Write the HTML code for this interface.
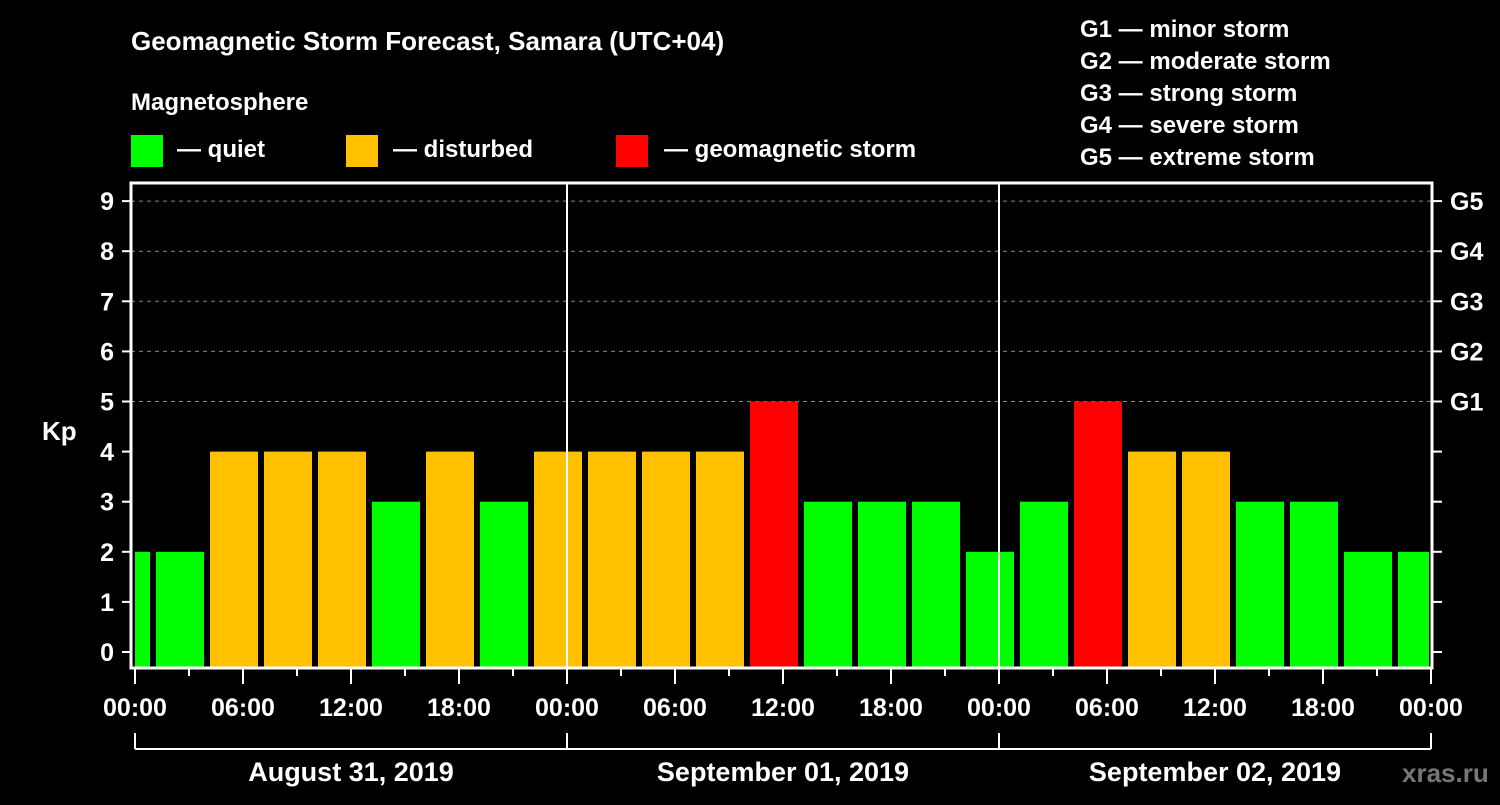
<!DOCTYPE html>
<html><head><meta charset="utf-8"><style>
body{margin:0;background:#000;width:1500px;height:800px;overflow:hidden}
svg text{font-family:"Liberation Sans",Arial,sans-serif;font-weight:bold;fill:#fff}
</style></head><body>
<svg id="c" width="1500" height="800" xmlns="http://www.w3.org/2000/svg">
<text x="131" y="50" font-size="26">Geomagnetic Storm Forecast, Samara (UTC+04)</text>
<text x="131" y="110" font-size="24">Magnetosphere</text>
<rect x="131" y="135" width="32" height="32" fill="#00ff00"/>
<text x="177" y="157" font-size="24">— quiet</text>
<rect x="346" y="135" width="32" height="32" fill="#ffc000"/>
<text x="393" y="157" font-size="24">— disturbed</text>
<rect x="616" y="135" width="32" height="32" fill="#ff0000"/>
<text x="664" y="157" font-size="24">— geomagnetic storm</text>
<g font-size="24">
<text x="1080" y="37">G1 — minor storm</text>
<text x="1080" y="69">G2 — moderate storm</text>
<text x="1080" y="101">G3 — strong storm</text>
<text x="1080" y="133">G4 — severe storm</text>
<text x="1080" y="165">G5 — extreme storm</text>
</g>
<text x="42" y="440" font-size="26">Kp</text>
<text x="1402" y="782" font-size="26" fill="#777" style="fill:#777">xras.ru</text>
<g id="plot"></g>
</svg>
<script>
const starts=[-2,1,4,7,10,13,16,19,22,25,28,31,34,37,40,43,46,49,52,55,58,61,64,67,70];
const kp=[2,2,4,4,4,3,4,3,4,4,4,4,5,3,3,3,2,3,5,4,4,3,3,2,2];
const yTicks=[0,1,2,3,4,5,6,7,8,9];
const gLabels=['G1','G2','G3','G4','G5'];
const xLabels=['00:00','06:00','12:00','18:00','00:00','06:00','12:00','18:00','00:00','06:00','12:00','18:00','00:00'];
const days=['August 31, 2019','September 01, 2019','September 02, 2019'];
const NS='http://www.w3.org/2000/svg';
const g=document.getElementById('plot');
const X=h=>135+h*18, Y=v=>652-v*50.1;
const L=131,R=1432,T=183,B=668;
function el(t,a,p){const e=document.createElementNS(NS,t);for(const k in a)e.setAttribute(k,a[k]);(p||g).appendChild(e);return e;}
yTicks.forEach(v=>{
 if(v>=5){const d=el('line',{x1:L,x2:R,y1:Y(v),y2:Y(v),stroke:'#888','stroke-dasharray':'4,4'});
 
 }
 el('line',{x1:122,x2:L,y1:Y(v),y2:Y(v),stroke:'#fff','stroke-width':2});
 el('line',{x1:R,x2:1442,y1:Y(v),y2:Y(v),stroke:'#fff','stroke-width':2});
 const t=el('text',{x:114,y:Y(v)+9,'font-size':25,'text-anchor':'end'});t.textContent=v;
 
 
});
gLabels.forEach((s,i)=>{const t=el('text',{x:1450,y:Y(5+i)+9,'font-size':25});t.textContent=s;
 
 });
starts.forEach((s,i)=>{
 const x0=Math.max(X(0),X(s)+3), x1=Math.min(X(72)-2,X(s+3)-3);
 const v=kp[i], c=v>=5?'#ff0000':v>=4?'#ffc000':'#00ff00';
 const r=el('rect',{x:x0,y:Y(v),width:x1-x0,height:B-Y(v),fill:c});
 
 
});
[24,48].forEach(h=>el('line',{x1:X(h),x2:X(h),y1:T,y2:B,stroke:'#fff','stroke-width':2}));
el('rect',{x:L,y:T,width:R-L,height:B-T,fill:'none',stroke:'#fff','stroke-width':3});
for(let h=0;h<=72;h+=3){el('line',{x1:X(h),x2:X(h),y1:B,y2:h%6?676:684,stroke:'#fff','stroke-width':2});}
xLabels.forEach((s,i)=>{const t=el('text',{x:X(i*6),y:716,'font-size':25,'text-anchor':'middle'});t.textContent=s;
 
 });
el('line',{x1:X(0),x2:X(72),y1:749,y2:749,stroke:'#fff','stroke-width':2});
[0,24,48,72].forEach(h=>el('line',{x1:X(h),x2:X(h),y1:733,y2:749,stroke:'#fff','stroke-width':2}));
days.forEach((s,i)=>{const t=el('text',{x:X(i*24+12),y:781,'font-size':27,'text-anchor':'middle'});t.textContent=s;
 
 });
</script>
</body></html>
